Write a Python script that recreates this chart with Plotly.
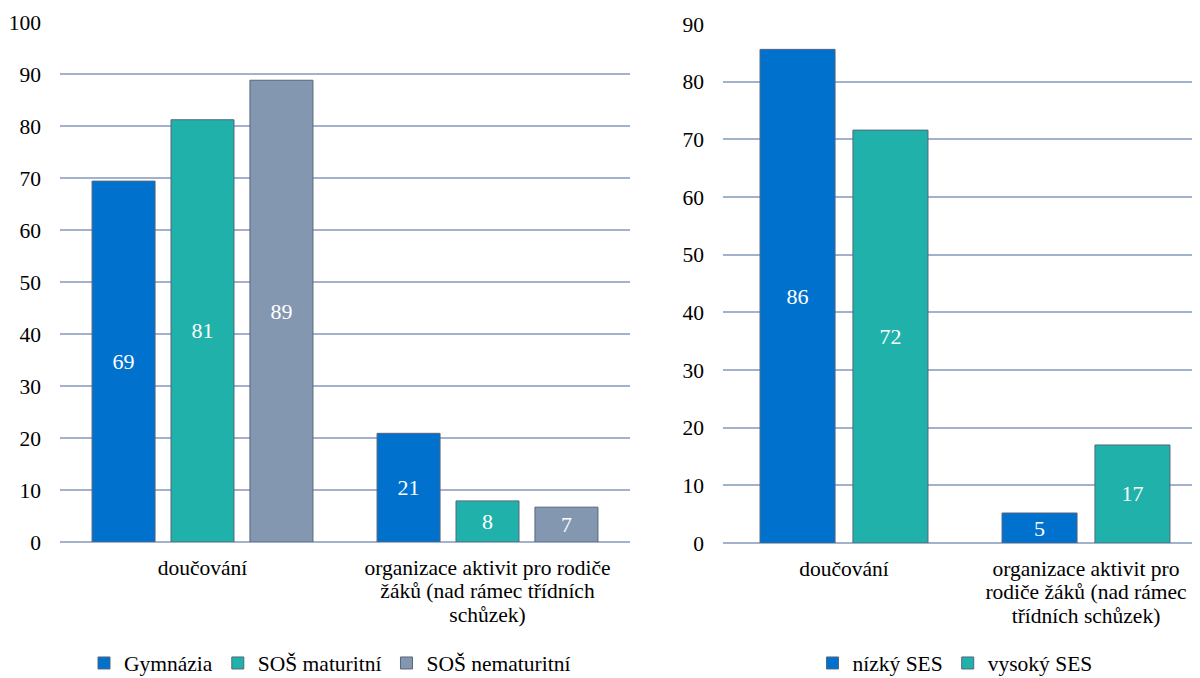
import plotly.graph_objects as go

# ---- data ----
categories = ["doučování", "organizace"]
left_lines = [["doučování"], ["organizace aktivit pro rodiče", "žáků (nad rámec třídních", "schůzek)"]]
right_lines = [["doučování"], ["organizace aktivit pro", "rodiče žáků (nad rámec", "třídních schůzek)"]]

left_series = ["Gymnázia", "SOŠ maturitní", "SOŠ nematuritní"]
gymnazia = [69.4, 20.9]
sos_mat = [81.2, 7.9]
sos_nemat = [88.8, 6.7]
left_labels = [["69", "21"], ["81", "8"], ["89", "7"]]

right_series = ["nízký SES", "vysoký SES"]
nizky = [85.6, 5.2]
vysoky = [71.6, 17.0]
right_labels = [["86", "5"], ["72", "17"]]

left_yticks = [0, 10, 20, 30, 40, 50, 60, 70, 80, 90, 100]
right_yticks = [0, 10, 20, 30, 40, 50, 60, 70, 80, 90]

BLUE = "#0072CE"
TEAL = "#20B2AA"
GRAY = "#8497B0"
OUTLINE = "#56657B"
GRID = "#A3B2CC"
FONT = "Liberation Serif"
FS = 21.5
LBL_BASE = 18  # base size for category labels (controls line spacing)


def f(size=FS, color="black"):
    return dict(family=FONT, size=size, color=color)


def wrap(lines):
    return "<br>".join("<span style='font-size:%.1fpx'>%s</span>" % (FS, ln) for ln in lines)


W = 1200.0
H = 678.0
OFF = 8  # page body margin offset


def px_x(sx):
    return (sx - OFF) / W


def px_y(sy):
    return 1 - (sy - OFF) / H


# bar geometry (fractions of category width)
L_W, L_G = 0.221, 0.056
R_W, R_G = 0.31, 0.074

fig = go.Figure()

n = len(left_series)
start = -(n * L_W + (n - 1) * L_G) / 2
for i, (name, vals, col, lab) in enumerate(zip(left_series, [gymnazia, sos_mat, sos_nemat], [BLUE, TEAL, GRAY], left_labels)):
    fig.add_trace(go.Bar(
        x=categories, y=vals, name=name, marker=dict(color=col, line=dict(color=OUTLINE, width=1)),
        width=L_W, offset=start + i * (L_W + L_G),
        text=lab, textposition="inside", insidetextanchor="middle", textangle=0, constraintext="none",
        insidetextfont=f(22, "white"), textfont=f(22, "white"),
        xaxis="x", yaxis="y", legend="legend",
    ))

n = len(right_series)
start = -(n * R_W + (n - 1) * R_G) / 2
for i, (name, vals, col, lab) in enumerate(zip(right_series, [nizky, vysoky], [BLUE, TEAL], right_labels)):
    fig.add_trace(go.Bar(
        x=categories, y=vals, name=name, marker=dict(color=col, line=dict(color=OUTLINE, width=1)),
        width=R_W, offset=start + i * (R_W + R_G),
        text=lab, textposition="inside", insidetextanchor="middle", textangle=0, constraintext="none",
        insidetextfont=f(22, "white"), textfont=f(22, "white"),
        xaxis="x2", yaxis="y2", legend="legend2",
    ))

common_x = dict(tickmode="array", tickvals=categories, showgrid=False, showline=False, ticks="",
                ticklabelstandoff=14, tickfont=f(LBL_BASE), automargin=False)
common_y = dict(showgrid=True, gridcolor=GRID, gridwidth=1.6, zeroline=True, zerolinecolor=GRID,
                zerolinewidth=1.6, showline=False, ticks="", ticklabelstandoff=18, tickfont=f(),
                automargin=False)

fig.update_layout(
    width=1200, height=678,
    margin=dict(l=0, r=0, t=0, b=0),
    paper_bgcolor="white", plot_bgcolor="white",
    font=f(),
    barmode="overlay",
    xaxis=dict(domain=[px_x(60), px_x(630)], anchor="y", range=[-0.5, 1.5],
               ticktext=[wrap(l) for l in left_lines], **common_x),
    yaxis=dict(domain=[px_y(542), px_y(22)], anchor="x", range=[0, 100], tickvals=left_yticks, **common_y),
    xaxis2=dict(domain=[px_x(723), px_x(1207)], anchor="y2", range=[-0.5, 1.5],
                ticktext=[wrap(l) for l in right_lines], **common_x),
    yaxis2=dict(domain=[px_y(543), px_y(24)], anchor="x2", range=[0, 90], tickvals=right_yticks, **common_y),
    legend=dict(orientation="h", x=px_x(330), y=px_y(663), xanchor="center", yanchor="middle",
                font=f(), itemwidth=30, tracegroupgap=0),
    legend2=dict(orientation="h", x=px_x(955), y=px_y(663), xanchor="center", yanchor="middle",
                 font=f(), itemwidth=30, tracegroupgap=0),
    showlegend=True,
)

fig.write_html("out.html")
